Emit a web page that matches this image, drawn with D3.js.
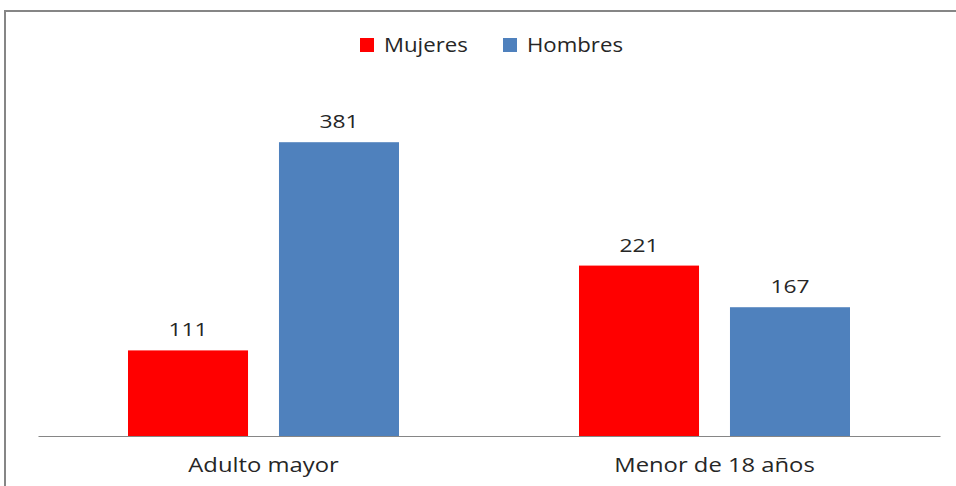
<!DOCTYPE html>
<html>
<head>
<meta charset="utf-8">
<script src="https://cdn.jsdelivr.net/npm/d3@7"></script>
<style>
  body { margin: 0; background: #fff; }
  svg text { fill: #262626; font-family: "Open Sans", sans-serif; }
</style>
</head>
<body>
<svg id="chart"></svg>
<script>
// Data
const categories = ['Adulto mayor', 'Menor de 18 años'];
const series = ['Mujeres', 'Hombres'];
const mujeres = [111, 221];
const hombres = [381, 167];
const colors = ['#ff0000', '#4f81bd'];

let width = 956;
let height = 486;
let margin = {left: 38, right: 16, top: 89, bottom: 50};

let svg = d3.select('#chart')
    .attr('width', width)
    .attr('height', height);

// stretch text horizontally (the original font is wider)
const stretch = (sel, f) => {
    sel.each(function() {
        let w = this.getComputedTextLength();
        d3.select(this)
            .attr('textLength', w * f)
            .attr('lengthAdjust', 'spacingAndGlyphs');
    });
}

// outer frame (only top & left edges visible in the picture)
svg.append('rect')
    .attr('x', 5)
    .attr('y', 11)
    .attr('width', 980)
    .attr('height', 500)
    .attr('fill', 'none')
    .attr('stroke', '#868686')
    .attr('stroke-width', 2);

let xScale = d3.scaleBand()
    .domain(categories)
    .range([margin.left, width - margin.right]);

let xInner = d3.scaleBand()
    .domain(series)
    .range([90, xScale.bandwidth() - 90])
    .paddingInner(0.205);

let yScale = d3.scaleLinear()
    .domain([0, 450])
    .range([height - margin.bottom, margin.top]);

let rows = [];
categories.forEach((c, i) => {
    rows.push({cat: c, s: 'Mujeres', v: mujeres[i]});
    rows.push({cat: c, s: 'Hombres', v: hombres[i]});
});

svg.selectAll('rect.bar')
    .data(rows)
    .enter()
    .append('rect')
    .attr('class', 'bar')
    .attr('x', d => xScale(d.cat) + xInner(d.s))
    .attr('y', d => yScale(d.v))
    .attr('width', xInner.bandwidth())
    .attr('height', d => yScale(0) - yScale(d.v))
    .attr('fill', d => colors[series.indexOf(d.s)]);

// value labels
let vals = svg.selectAll('text.val')
    .data(rows)
    .enter()
    .append('text')
    .attr('class', 'val')
    .attr('x', d => xScale(d.cat) + xInner(d.s) + xInner.bandwidth() / 2)
    .attr('y', d => yScale(d.v) - 14)
    .attr('text-anchor', 'middle')
    .style('font-size', '19px')
    .text(d => d.v);
stretch(vals, 1.2);

// x axis
let xAxis = d3.axisBottom(xScale).tickSize(0).tickPadding(0);
let gx = svg.append('g')
    .attr('transform', 'translate(0,' + yScale(0) + ')')
    .call(xAxis);
gx.select('.domain').attr('stroke', '#868686').attr('stroke-width', 1.2);
gx.selectAll('text')
    .attr('dy', 0)
    .attr('y', 36)
    .attr('fill', null)
    .style('font-family', '"Open Sans", sans-serif')
    .style('font-size', '19.5px');
stretch(gx.selectAll('text'), 1.22);

// legend
let legend = svg.append('g').attr('transform', 'translate(360,38)');
let legendX = [0, 143];
series.forEach((s, i) => {
    legend.append('rect')
        .attr('x', legendX[i])
        .attr('y', 0)
        .attr('width', 14)
        .attr('height', 14)
        .attr('fill', colors[i]);
    let t = legend.append('text')
        .attr('x', legendX[i] + 24)
        .attr('y', 14)
        .style('font-size', '20px')
        .text(s);
    stretch(t, 1.11);
});
</script>
</body>
</html>
